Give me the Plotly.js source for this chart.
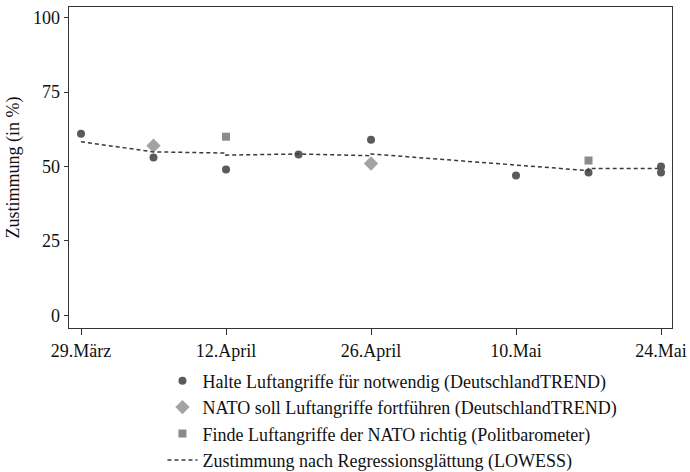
<!DOCTYPE html>
<html>
<head>
<meta charset="utf-8">
<script src="https://cdn.plot.ly/plotly-3.0.1.min.js"></script>
<style>html,body{margin:0;padding:0;background:#fff;}#chart{width:690px;height:472px;}</style>
</head>
<body>
<div id="chart"></div>
<script>
// Halte Luftangriffe für notwendig (DeutschlandTREND)
const circleDates = ['1999-03-29','1999-04-05','1999-04-12','1999-04-19','1999-04-26','1999-05-10','1999-05-17','1999-05-24','1999-05-24'];
const circleValues = [61, 53, 49, 54, 59, 47, 48, 50, 48];
// NATO soll Luftangriffe fortführen (DeutschlandTREND)
const diamondDates = ['1999-04-05','1999-04-26'];
const diamondValues = [57, 51];
// Finde Luftangriffe der NATO richtig (Politbarometer)
const squareDates = ['1999-04-12','1999-05-17'];
const squareValues = [60, 52];
// Zustimmung nach Regressionsglättung (LOWESS)
const lowessDates = ['1999-03-29','1999-04-05','1999-04-12','1999-04-12','1999-04-19','1999-04-26','1999-04-26','1999-05-10','1999-05-17','1999-05-17','1999-05-24'];
const lowessValues = [58.3, 54.9, 54.5, 53.8, 54.2, 53.6, 54.2, 50.6, 48.6, 49.3, 49.3];

const tickDates = ['1999-03-29','1999-04-12','1999-04-26','1999-05-10','1999-05-24'];
const tickLabels = ['29.März','12.April','26.April','10.Mai','24.Mai'];
const yTicks = [0, 25, 50, 75, 100];

const names = [
  'Halte Luftangriffe für notwendig (DeutschlandTREND)',
  'NATO soll Luftangriffe fortführen (DeutschlandTREND)',
  'Finde Luftangriffe der NATO richtig (Politbarometer)',
  'Zustimmung nach Regressionsglättung (LOWESS)'
];

const font = 'Liberation Serif, Times New Roman, serif';

const traces = [
  {x: circleDates, y: circleValues, type: 'scatter', mode: 'markers', name: names[0],
   marker: {symbol: 'circle', size: 8, color: '#5a5a5a'}},
  {x: diamondDates, y: diamondValues, type: 'scatter', mode: 'markers', name: names[1],
   marker: {symbol: 'diamond', size: 11, color: '#a3a3a3'}},
  {x: squareDates, y: squareValues, type: 'scatter', mode: 'markers', name: names[2],
   marker: {symbol: 'square', size: 8, color: '#8a8a8a'}},
  {x: lowessDates, y: lowessValues, type: 'scatter', mode: 'lines', name: names[3],
   line: {color: '#3a3a3a', width: 1.5, dash: '4px,3px'}}
];

const layout = {
  width: 690, height: 472,
  margin: {l: 69, r: 18, t: 7, b: 144},
  paper_bgcolor: '#fff', plot_bgcolor: '#fff',
  font: {family: font, size: 18, color: '#111'},
  showlegend: true,
  legend: {x: 0.155, xanchor: 'left', xref: 'paper', y: 0.232, yref: 'container', yanchor: 'top', orientation: 'v',
           font: {family: font, size: 18, color: '#111'}, tracegroupgap: 0, bgcolor: 'rgba(0,0,0,0)'},
  xaxis: {
    type: 'date', range: ['1999-03-27 20:10', '1999-05-25 01:26'], automargin: false,
    tickmode: 'array', tickvals: tickDates, ticktext: tickLabels,
    ticks: 'outside', ticklen: 6, tickwidth: 1, tickcolor: '#333',
    showline: true, linecolor: '#333', linewidth: 1.3, mirror: true,
    showgrid: false, zeroline: false,
    tickfont: {family: font, size: 18, color: '#111'}
  },
  yaxis: {
    range: [-4.3, 103.6], automargin: false,
    tickmode: 'array', tickvals: yTicks,
    ticks: 'outside', ticklen: 4, tickwidth: 1, tickcolor: '#333',
    showline: true, linecolor: '#333', linewidth: 1.3, mirror: true,
    showgrid: false, zeroline: false,
    tickfont: {family: font, size: 18, color: '#111'},
    title: {text: 'Zustimmung (in %)', font: {family: font, size: 18, color: '#111'}, standoff: 8}
  }
};

Plotly.newPlot('chart', traces, layout, {staticPlot: true, displayModeBar: false});
</script>
</body>
</html>
